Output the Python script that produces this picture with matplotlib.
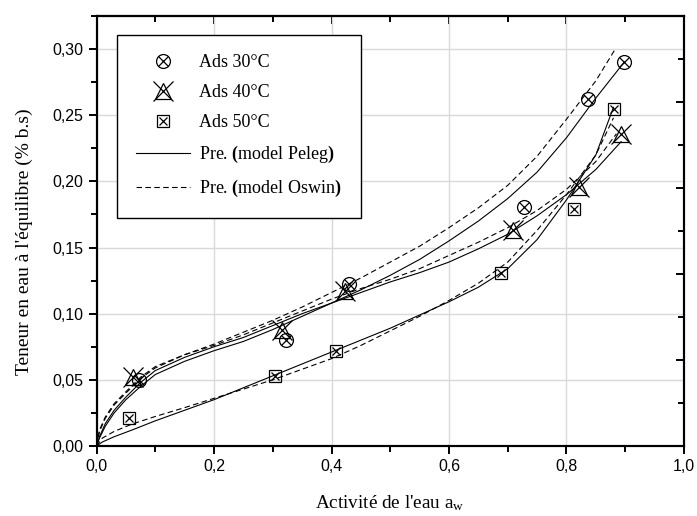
# -*- coding: utf-8 -*-
"""Sorption isotherms: measured points and Peleg / Oswin model predictions."""

import matplotlib
matplotlib.use("Agg")
import matplotlib.pyplot as plt
from matplotlib.lines import Line2D
from matplotlib.ticker import MultipleLocator
from matplotlib import rcParams

# measured adsorption points (aw, moisture content)
AW_30 = [0.072, 0.323, 0.430, 0.727, 0.836, 0.898]
M_30 = [0.0499, 0.080, 0.1225, 0.181, 0.2624, 0.290]
AW_40 = [0.062, 0.315, 0.423, 0.709, 0.822, 0.893]
M_40 = [0.0524, 0.0877, 0.117, 0.163, 0.196, 0.2357]
AW_50 = [0.056, 0.304, 0.408, 0.689, 0.812, 0.881]
M_50 = [0.0214, 0.0532, 0.0721, 0.1306, 0.179, 0.255]

# model curves
PELEG_30_X = [0, 0.005, 0.015, 0.03, 0.05, 0.075, 0.1, 0.15, 0.2, 0.25, 0.3, 0.35, 0.4,
              0.45, 0.5, 0.55, 0.6, 0.65, 0.7, 0.75, 0.8, 0.85, 0.898]
PELEG_30_Y = [0, 0.006, 0.015, 0.025, 0.035, 0.045, 0.054, 0.064, 0.072, 0.079, 0.088,
              0.098, 0.108, 0.118, 0.129, 0.141, 0.155, 0.170, 0.187, 0.207, 0.233,
              0.263, 0.290]
OSWIN_30_X = [0, 0.005, 0.015, 0.03, 0.05, 0.075, 0.1, 0.15, 0.2, 0.25, 0.3, 0.35, 0.4,
              0.45, 0.5, 0.55, 0.6, 0.65, 0.7, 0.75, 0.8, 0.85, 0.883]
OSWIN_30_Y = [0, 0.012, 0.022, 0.032, 0.041, 0.052, 0.060, 0.069, 0.077, 0.086, 0.095,
              0.105, 0.116, 0.127, 0.139, 0.151, 0.165, 0.180, 0.197, 0.219, 0.247,
              0.276, 0.300]
PELEG_40_X = [0, 0.005, 0.015, 0.03, 0.05, 0.075, 0.1, 0.15, 0.2, 0.25, 0.3, 0.35, 0.4,
              0.45, 0.5, 0.55, 0.6, 0.65, 0.7, 0.75, 0.8, 0.85, 0.893]
PELEG_40_Y = [0, 0.007, 0.017, 0.027, 0.037, 0.048, 0.057, 0.067, 0.075, 0.082, 0.091,
              0.100, 0.108, 0.116, 0.124, 0.131, 0.139, 0.149, 0.160, 0.174, 0.190,
              0.209, 0.230]
OSWIN_40_X = [0, 0.005, 0.015, 0.03, 0.05, 0.075, 0.1, 0.15, 0.2, 0.25, 0.3, 0.35, 0.4,
              0.45, 0.5, 0.55, 0.6, 0.65, 0.7, 0.75, 0.8, 0.85, 0.885]
OSWIN_40_Y = [0, 0.011, 0.021, 0.031, 0.040, 0.051, 0.059, 0.069, 0.076, 0.084, 0.093,
              0.102, 0.111, 0.119, 0.126, 0.134, 0.144, 0.154, 0.165, 0.178, 0.194,
              0.215, 0.236]
PELEG_50_X = [0, 0.01, 0.03, 0.06, 0.1, 0.15, 0.2, 0.25, 0.3, 0.35, 0.4, 0.45, 0.5,
              0.55, 0.6, 0.65, 0.7, 0.75, 0.8, 0.85, 0.88]
PELEG_50_Y = [0, 0.003, 0.007, 0.012, 0.019, 0.027, 0.035, 0.044, 0.053, 0.062, 0.071,
              0.080, 0.089, 0.099, 0.109, 0.120, 0.134, 0.156, 0.186, 0.220, 0.256]
OSWIN_50_X = [0, 0.01, 0.03, 0.06, 0.1, 0.15, 0.2, 0.25, 0.3, 0.35, 0.4, 0.45, 0.5,
              0.55, 0.6, 0.65, 0.7, 0.75, 0.8, 0.85, 0.88]
OSWIN_50_Y = [0, 0.006, 0.011, 0.0165, 0.0223, 0.029, 0.036, 0.043, 0.050, 0.058, 0.066,
              0.076, 0.087, 0.098, 0.110, 0.123, 0.139, 0.163, 0.190, 0.220, 0.248]

X_TICKS = [0.0, 0.2, 0.4, 0.6, 0.8, 1.0]
X_TICKLABELS = ["0,0", "0,2", "0,4", "0,6", "0,8", "1,0"]
Y_TICKS = [0.00, 0.05, 0.10, 0.15, 0.20, 0.25, 0.30]
Y_TICKLABELS = ["0,00", "0,05", "0,10", "0,15", "0,20", "0,25", "0,30"]

SERIF = "Liberation Serif"
SANS = "Liberation Sans"

rcParams["font.family"] = SERIF
rcParams["mathtext.fontset"] = "custom"
rcParams["mathtext.rm"] = SERIF
rcParams["mathtext.bf"] = SERIF + ":bold"
rcParams["mathtext.it"] = SERIF + ":italic"

fig = plt.figure(figsize=(6.97, 5.16), dpi=100)
ax = fig.add_axes([0.1385, 0.1357, 0.8428, 0.8333])

ax.grid(True, color="#d9d9d9", linewidth=1.0)
ax.set_axisbelow(True)

line_kw = dict(color="black", linewidth=0.8)
dash = (0, (5, 3))
for xs, ys in [(PELEG_30_X, PELEG_30_Y), (PELEG_40_X, PELEG_40_Y), (PELEG_50_X, PELEG_50_Y)]:
    ax.plot(xs, ys, linestyle="-", **line_kw)
for xs, ys in [(OSWIN_30_X, OSWIN_30_Y), (OSWIN_40_X, OSWIN_40_Y), (OSWIN_50_X, OSWIN_50_Y)]:
    ax.plot(xs, ys, linestyle=dash, **line_kw)

mk = dict(linestyle="none", color="black", markerfacecolor="none", markeredgewidth=0.9)
STYLE_30 = [("o", 10), ("x", 7)]
STYLE_40 = [("^", 12), ("x", 14)]
STYLE_50 = [("s", 8), ("x", 6)]
for xs, ys, style in [(AW_30, M_30, STYLE_30), (AW_40, M_40, STYLE_40), (AW_50, M_50, STYLE_50)]:
    for m, s in style:
        ax.plot(xs, ys, marker=m, markersize=s, **mk)

ax.set_xlim(0, 1.0)
ax.set_ylim(0, 0.325)
ax.set_xticks(X_TICKS)
ax.set_xticklabels(X_TICKLABELS, family=SANS, fontsize=11.5)
ax.set_yticks(Y_TICKS)
ax.set_yticklabels(Y_TICKLABELS, family=SANS, fontsize=11.5)
ax.xaxis.set_minor_locator(MultipleLocator(0.1))
ax.yaxis.set_minor_locator(MultipleLocator(0.025))
ax.tick_params(which="major", direction="out", length=6, width=1.4)
ax.tick_params(which="minor", direction="out", length=4, width=1.4)
for sp in ax.spines.values():
    sp.set_linewidth(1.5)

# right and top frame ticks (inward, unlabeled)
axr = ax.twinx()
axr.set_ylim(0, 5)
axr.yaxis.set_major_locator(MultipleLocator(1))
axr.yaxis.set_minor_locator(MultipleLocator(0.5))
axr.tick_params(which="both", direction="in", width=1.4, labelright=False)
axr.tick_params(which="major", length=6)
axr.tick_params(which="minor", length=4)
for sp in axr.spines.values():
    sp.set_linewidth(1.5)

axt = ax.secondary_xaxis("top")
axt.set_xticks(X_TICKS)
axt.xaxis.set_minor_locator(MultipleLocator(0.1))
axt.tick_params(which="both", direction="in", width=1.4, labeltop=False)
axt.tick_params(which="major", length=6)
axt.tick_params(which="minor", length=4)
axt.spines["top"].set_linewidth(1.5)

ax.set_xlabel(r"Activité de l'eau a$_{\mathrm{w}}$", fontsize=13.8, labelpad=14)
ax.set_ylabel("Teneur en eau à l'équilibre (% b.s)", fontsize=14)
ax.yaxis.set_label_coords(-0.108, 0.476)


def legend_handle(style):
    return tuple(Line2D([], [], marker=m, markersize=s, **mk) for m, s in style)


hp = Line2D([], [], linestyle="-", **line_kw)
ho = Line2D([], [], linestyle=dash, **line_kw)
labels = ["Ads 30°C", "Ads 40°C", "Ads 50°C",
          r"Pre. $\mathbf{(}$model Peleg$\mathbf{)}$",
          r"Pre. $\mathbf{(}$model Oswin$\mathbf{)}$"]
leg = ax.legend([legend_handle(STYLE_30), legend_handle(STYLE_40), legend_handle(STYLE_50), hp, ho],
                labels,
                loc="upper left", bbox_to_anchor=(0.035, 0.956), borderaxespad=0,
                fontsize=13, frameon=True, fancybox=False, edgecolor="black",
                framealpha=1, handlelength=3.0, handletextpad=0.5,
                labelspacing=0.72, borderpad=1.05)
leg.get_frame().set_linewidth(1.0)

fig.savefig("out.png", dpi=100)
